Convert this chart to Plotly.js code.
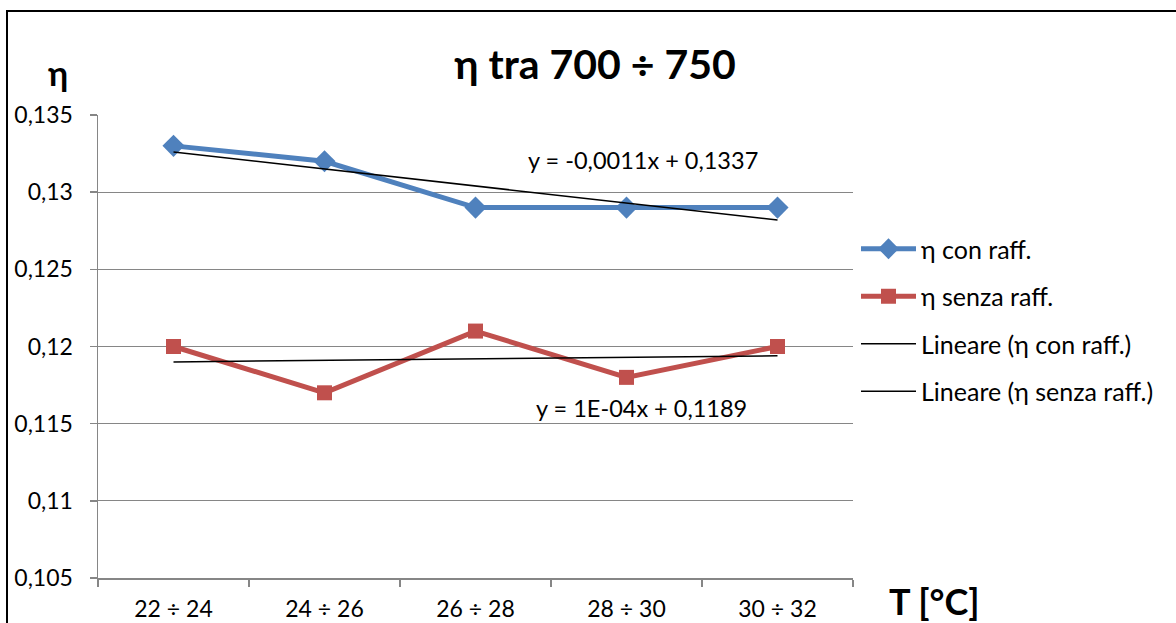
<!DOCTYPE html>
<html>
<head>
<meta charset="utf-8">
<script src="https://cdn.plot.ly/plotly-3.0.1.min.js"></script>
<style>
html,body{margin:0;padding:0;background:#fff;overflow:hidden;}
#chart{width:1176px;height:623px;position:absolute;left:0;top:0;}
#frame{position:absolute;left:6px;top:10px;width:1300px;height:700px;border-left:2px solid #000;border-top:2px solid #000;pointer-events:none;}
</style>
</head>
<body>
<div id="chart"></div>
<div id="frame"></div>
<script>
const categories = ["22 ÷ 24", "24 ÷ 26", "26 ÷ 28", "28 ÷ 30", "30 ÷ 32"];
const conRaff = [0.133, 0.132, 0.129, 0.129, 0.129];
const senzaRaff = [0.120, 0.117, 0.121, 0.118, 0.120];
const seriesNames = ["η con raff.", "η senza raff.", "Lineare (η con raff.)", "Lineare (η senza raff.)"];
const titleText = "η tra 700 ÷ 750";
const eqCon = "y = -0,0011x + 0,1337";
const eqSenza = "y = 1E-04x + 0,1189";

// least-squares linear trendline (as Excel does), x = 1..n
function trend(ys){
  const n = ys.length; const xs = ys.map((_, i) => i + 1);
  const mx = xs.reduce((a,b)=>a+b,0)/n, my = ys.reduce((a,b)=>a+b,0)/n;
  let sxy = 0, sxx = 0;
  for (let i=0;i<n;i++){ sxy += (xs[i]-mx)*(ys[i]-my); sxx += (xs[i]-mx)**2; }
  const m = sxy/sxx, b = my - m*mx;
  return xs.map(x => m*x + b);
}

const FONT = "Lato, 'Open Sans', sans-serif";
const traces = [
  {x: categories, y: conRaff, name: seriesNames[0], type: "scatter", mode: "lines+markers",
   line: {color: "#4F81BD", width: 5}, marker: {symbol: "diamond", size: 17, color: "#4F81BD"}, legendgroup: "a"},
  {x: categories, y: senzaRaff, name: seriesNames[1], type: "scatter", mode: "lines+markers",
   line: {color: "#C0504D", width: 5}, marker: {symbol: "square", size: 15, color: "#C0504D"}, legendgroup: "b"},
  {x: categories, y: trend(conRaff), name: seriesNames[2], type: "scatter", mode: "lines",
   line: {color: "#000", width: 1.5}, legendgroup: "c"},
  {x: categories, y: trend(senzaRaff), name: seriesNames[3], type: "scatter", mode: "lines",
   line: {color: "#000", width: 1.5}, legendgroup: "d"}
];

const layout = {
  width: 1176, height: 623,
  margin: {l: 98, r: 323, t: 115, b: 45},
  paper_bgcolor: "#fff", plot_bgcolor: "#fff",
  separators: ",.",
  font: {family: FONT, size: 22, color: "#000"},
  title: {text: "<b>" + titleText + "</b>", font: {family: FONT, size: 41, color: "#000"},
          x: 595/1176, xanchor: "center", y: 1 - 65/623, yanchor: "middle"},
  xaxis: {type: "category", range: [-0.5, 4.5], showgrid: false, zeroline: false,
          showline: true, linecolor: "#868686", linewidth: 1.5,
          ticks: "outside", tickson: "boundaries", ticklen: 7, tickcolor: "#868686", tickwidth: 1.5,
          ticklabelstandoff: 10, tickfont: {family: FONT, size: 23, color: "#000"}, fixedrange: true},
  yaxis: {range: [0.105, 0.135], dtick: 0.005, tick0: 0.105, showgrid: true, gridcolor: "#868686", gridwidth: 1.2,
          zeroline: false, showline: true, linecolor: "#868686", linewidth: 1.5,
          ticks: "outside", ticklen: 7, tickcolor: "#868686", tickwidth: 1.5,
          ticklabelstandoff: 12, tickfont: {family: FONT, size: 23, color: "#000"}, fixedrange: true},
  showlegend: true,
  legend: {x: 1 + (855-852)/755, xanchor: "left", y: 1 - (320-115)/463, yanchor: "middle",
           font: {family: FONT, size: 25, color: "#000"}, tracegroupgap: 12,
           bgcolor: "rgba(0,0,0,0)", itemwidth: 55},
  annotations: [
    {text: "<b>η</b>", xref: "paper", yref: "paper", x: (58-98)/755, y: 1 - (73-115)/463,
     xanchor: "center", yanchor: "middle", showarrow: false, font: {family: FONT, size: 34, color: "#000"}},
    {text: "<b>T [°C]</b>", xref: "paper", yref: "paper", x: (934-98)/755, y: 1 - (601-115)/463,
     xanchor: "center", yanchor: "middle", showarrow: false, font: {family: FONT, size: 36, color: "#000"}},
    {text: eqCon, xref: "paper", yref: "paper", x: (643-98)/755, y: 1 - (160-115)/463,
     xanchor: "center", yanchor: "middle", showarrow: false, font: {family: FONT, size: 23.5, color: "#000"}},
    {text: eqSenza, xref: "paper", yref: "paper", x: (641-98)/755, y: 1 - (408-115)/463,
     xanchor: "center", yanchor: "middle", showarrow: false, font: {family: FONT, size: 23.5, color: "#000"}}
  ]
};

Plotly.newPlot("chart", traces, layout, {displayModeBar: false, staticPlot: true});
</script>
</body>
</html>
